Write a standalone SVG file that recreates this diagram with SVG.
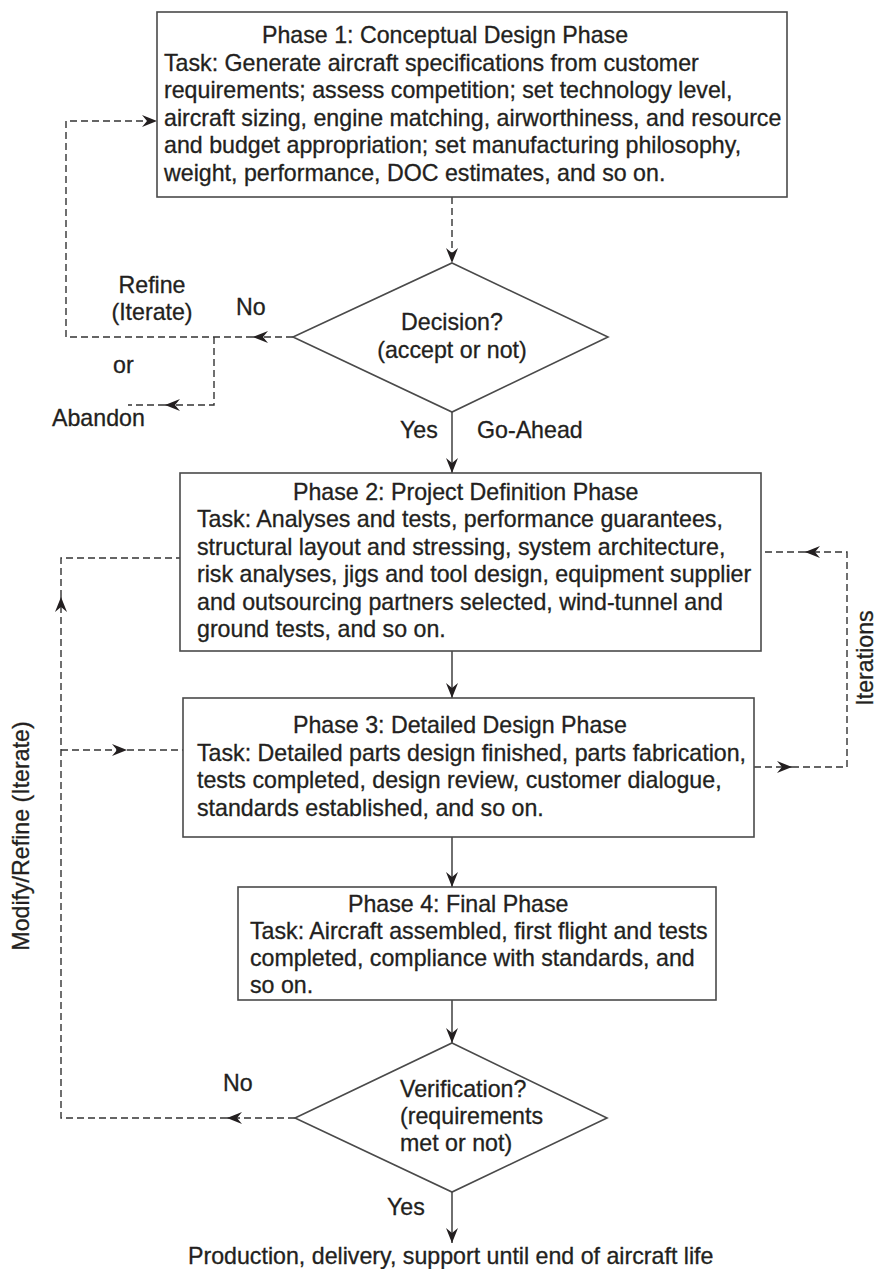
<svg xmlns="http://www.w3.org/2000/svg" width="878" height="1269" viewBox="0 0 878 1269">
<style>
text{font-family:"Liberation Sans",Arial,sans-serif;font-size:23.2px;fill:#231f20;stroke:#231f20;stroke-width:0.3}
.box{fill:#fff;stroke:#4a4a4a;stroke-width:1.6}
.c{fill:none;stroke:#333;stroke-width:1.4}
.d{stroke-dasharray:7,4}
.m{text-anchor:middle}
</style>
<defs>
<marker id="ah" viewBox="0 0 15 12" refX="15" refY="6" markerWidth="15" markerHeight="12" markerUnits="userSpaceOnUse" orient="auto">
<path d="M0,0 L15,6 L0,12 L5,6 Z" fill="#231f20"/>
</marker>
</defs>
<rect width="878" height="1269" fill="#fff"/>

<g id="connectors">
<path class="c d" d="M452,197 V263" marker-end="url(#ah)"/>
<path class="c d" d="M293,337 H253" marker-end="url(#ah)"/>
<path class="c d" d="M253,337 H66 V121 H157" marker-end="url(#ah)"/>
<path class="c d" d="M214,337 V405 H165" marker-end="url(#ah)"/>
<path class="c d" d="M165,405 H128"/>
<path class="c" d="M452,412 V473" marker-end="url(#ah)"/>
<path class="c" d="M452,651 V698" marker-end="url(#ah)"/>
<path class="c" d="M452,837 V887" marker-end="url(#ah)"/>
<path class="c" d="M452,1000 V1043" marker-end="url(#ah)"/>
<path class="c" d="M452,1192 V1243" marker-end="url(#ah)"/>
<path class="c d" d="M295,1118 H227" marker-end="url(#ah)"/>
<path class="c d" d="M227,1118 H61 V597" marker-end="url(#ah)"/>
<path class="c d" d="M61,597 V558 H180"/>
<path class="c d" d="M61,750 H127" marker-end="url(#ah)"/>
<path class="c d" d="M127,750 H183"/>
<path class="c d" d="M754,767 H792" marker-end="url(#ah)"/>
<path class="c d" d="M792,767 H847 V552 H805" marker-end="url(#ah)"/>
<path class="c d" d="M805,552 H761"/>
</g>

<g id="phase1">
<rect class="box" x="157" y="12" width="630" height="185"/>
<text x="262" y="43">Phase 1: Conceptual Design Phase</text>
<text x="164" y="70.5">Task: Generate aircraft specifications from customer</text>
<text x="164" y="98">requirements; assess competition; set technology level,</text>
<text x="164" y="125.5">aircraft sizing, engine matching, airworthiness, and resource</text>
<text x="164" y="153">and budget appropriation; set manufacturing philosophy,</text>
<text x="164" y="180.5">weight, performance, DOC estimates, and so on.</text>
</g>

<g id="decision">
<polygon class="box" points="452,263 608,337 452,412 293,337"/>
<text class="m" x="452" y="330">Decision?</text>
<text class="m" x="452" y="358">(accept or not)</text>
</g>

<g id="labels-decision">
<text class="m" x="152" y="293">Refine</text>
<text class="m" x="152" y="320">(Iterate)</text>
<text x="236" y="315">No</text>
<text x="113" y="373">or</text>
<text x="52" y="426">Abandon</text>
<text x="400" y="438">Yes</text>
<text x="477" y="438">Go-Ahead</text>
</g>

<g id="phase2">
<rect class="box" x="180" y="473" width="581" height="178"/>
<text x="293" y="499.5">Phase 2: Project Definition Phase</text>
<text x="197" y="527">Task: Analyses and tests, performance guarantees,</text>
<text x="197" y="554.5">structural layout and stressing, system architecture,</text>
<text x="197" y="582">risk analyses, jigs and tool design, equipment supplier</text>
<text x="197" y="609.5">and outsourcing partners selected, wind-tunnel and</text>
<text x="197" y="637">ground tests, and so on.</text>
</g>

<g id="phase3">
<rect class="box" x="183" y="698" width="571" height="139"/>
<text x="293" y="733">Phase 3: Detailed Design Phase</text>
<text x="197" y="760.5">Task: Detailed parts design finished, parts fabrication,</text>
<text x="197" y="788">tests completed, design review, customer dialogue,</text>
<text x="197" y="816">standards established, and so on.</text>
</g>

<g id="iterations-label">
<text class="m" transform="translate(873,658) rotate(-90)">Iterations</text>
</g>
<g id="modify-label">
<text class="m" transform="translate(29,836) rotate(-90)">Modify/Refine (Iterate)</text>
</g>

<g id="phase4">
<rect class="box" x="238" y="887" width="478" height="113"/>
<text x="348" y="912">Phase 4: Final Phase</text>
<text x="250" y="939">Task: Aircraft assembled, first flight and tests</text>
<text x="250" y="966">completed, compliance with standards, and</text>
<text x="250" y="993">so on.</text>
</g>

<g id="verification">
<polygon class="box" points="452,1043 607,1118 452,1192 295,1118"/>
<text x="400" y="1097">Verification?</text>
<text x="400" y="1124">(requirements</text>
<text x="400" y="1151">met or not)</text>
</g>

<g id="labels-verification">
<text x="223" y="1091">No</text>
<text x="387" y="1215">Yes</text>
</g>

<g id="production">
<text x="188" y="1264">Production, delivery, support until end of aircraft life</text>
</g>
</svg>
